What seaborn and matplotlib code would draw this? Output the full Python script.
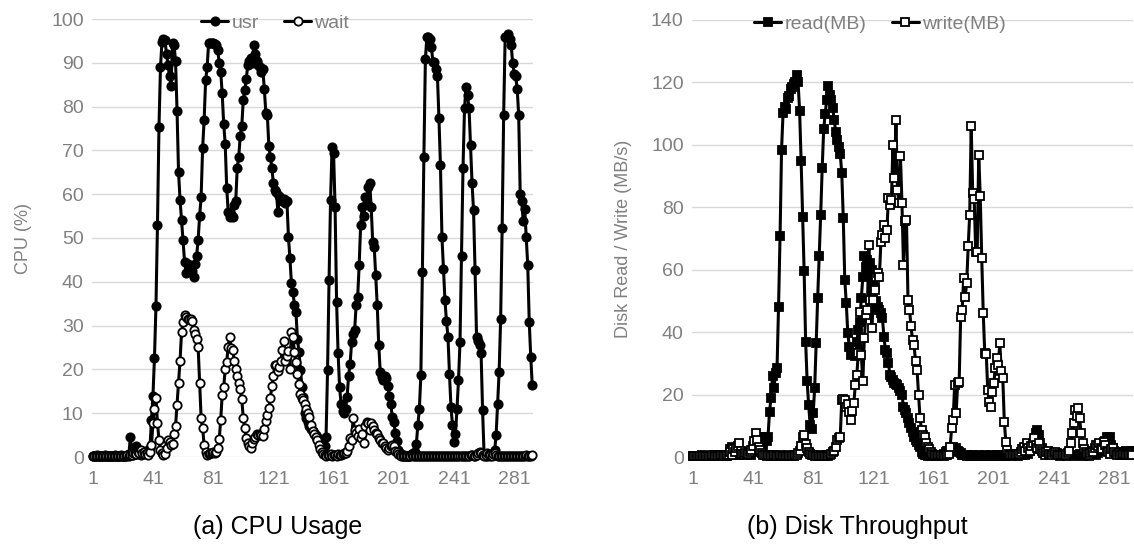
import numpy as np
import pandas as pd
import matplotlib
matplotlib.use("Agg")
import matplotlib.pyplot as plt
import seaborn as sns

# ---------------- data ----------------
# CPU usage (%), one sample per second, 293 samples
usr = [
    # 1-25
    0.3, 0.2, 0.3, 0.4, 0.2, 0.3, 0.3, 0.2, 0.4, 0.3, 0.2, 0.3, 0.3, 0.2, 0.3, 0.4, 0.3, 0.2, 0.3, 0.5,
    0.3, 0.2, 0.3, 0.4, 0.6,
    # 26-39
    4.6, 0.8, 0.5, 0.7, 2.4, 0.6, 0.9, 0.5, 0.7, 1.0, 0.8, 1.2, 1.5, 2.0,
    # 40-63
    8.4, 14, 22.6, 34.5, 53, 75.4, 89, 94.8, 95.5, 95.2, 92, 89.5, 87, 84.7, 94.5, 94, 90.5, 79, 65, 58.7,
    54, 49.5, 44.6, 42,
    # 64-130
    44, 43.8, 43, 42.5, 41, 44, 45.9, 49.5, 55, 59.4, 70.5, 77, 86, 89, 94.6, 94.5, 94.6, 94.5, 94.3, 94,
    93, 90, 88, 83, 76, 71.5, 61.5, 55.9, 54.7, 55.5, 54.7, 57.5, 58.5, 66, 68.5, 73.4, 75.5, 81.5, 83.8, 86.3,
    89.5, 90.5, 91, 90, 94, 92, 90.5, 89.5, 89, 88, 88.5, 84, 78.6, 78, 71, 68.5, 66, 62.5, 61, 60.5,
    56, 59.5, 59, 58.5, 59, 58, 58.5,
    # 131-155
    50.3, 45.4, 39.7, 37.6, 34.7, 33, 27, 24, 19.9, 16, 13.7, 10, 9, 7.9, 7, 6.5, 6, 5.5, 5, 4.5,
    4, 3.6, 3.3, 3, 2.5,
    # 156-168
    4.6, 19.8, 40.4, 58.7, 70.8, 69.4, 57, 35.5, 23.7, 16, 12, 10.4, 10,
    # 169-206
    11, 13.8, 18.6, 21.3, 26.3, 28, 29, 34.7, 36.5, 43.8, 53, 57, 55, 59.4, 58, 61.7, 62.5, 57, 49, 48,
    41.5, 34.7, 25.6, 19.5, 18.3, 17.5, 18.5, 18, 16.3, 14, 12, 9.2, 8, 5.5, 3.7, 1.7, 0.8, 0.5,
    # 207-215
    0.3, 0.4, 0.2, 0.3, 0.3, 0.5, 0.6, 0.8, 1.2,
    # 216-222
    3, 7.3, 11, 18.7, 42.3, 68.5, 90.8,
    # 223-249
    96, 96, 95.4, 93.6, 90.2, 90.2, 88.5, 87, 77.4, 66.7, 50.3, 43, 35.8, 31, 27.5, 19, 11.4, 7.3, 3.4, 5.3,
    11, 17.5, 26.3, 46, 66, 79.6, 84.5,
    # 250-261
    82.6, 79.6, 71.2, 62.5, 56.3, 42.6, 27.4, 26.5, 25.6, 23.7, 10.8, 0.5,
    # 262-268
    0.3, 0.2, 0.4, 0.3, 0.5, 0.4, 1.5,
    # 269-274
    5, 12, 19.5, 31.5, 52.3, 78,
    # 275-293
    96, 96.2, 96.6, 95.5, 94, 90, 87.5, 87, 84, 78, 60, 58.5, 53.8, 56.6, 50.3, 43.8, 30.9, 22.9, 16.4,
]

wait = [
    # 1-25
    0.2, 0.3, 0.2, 0.2, 0.3, 0.2, 0.2, 0.3, 0.2, 0.2, 0.3, 0.2, 0.2, 0.3, 0.2, 0.2, 0.3, 0.2, 0.2, 0.3,
    0.2, 0.3, 0.2, 0.4, 0.3,
    # 26-39
    0.5, 0.5, 0.8, 1.0, 0.6, 1.2, 0.8, 1.5, 0.9, 1.2, 0.7, 1.0, 0.5, 1.2,
    # 40-155
    2.7, 7.8, 11, 13.4, 7.8, 3.9, 1.6, 0.8, 0.5, 0.6, 2, 3.9, 3.5, 2.7, 3.0, 5.3, 7, 11.9, 17, 22,
    28.6, 30.9, 32.4, 32, 31.5, 31.5, 31.5, 31, 29, 28, 27, 25.2, 16.8, 8.9, 6.6, 2.7, 1.2, 0.5, 0.6, 0.8,
    1.0, 1.2, 1.0, 1.2, 2.0, 4, 8.4, 14.2, 16, 20, 21.8, 25.2, 27.5, 25, 24.5, 22, 20, 18.5, 17, 15.5,
    13.2, 8.9, 6.6, 4.3, 3.1, 2.5, 2, 3.1, 4, 4.5, 5.3, 5.0, 5.3, 5.0, 4.8, 6.5, 8.2, 9.5, 11.2, 13.5,
    16.1, 18.4, 21, 21, 19.6, 20.5, 22, 24.5, 26.5, 22, 23, 24.3, 20, 28.6, 27.4, 24, 21.7, 19, 16.7, 14.4,
    13.5, 12.9, 12, 11, 10, 9.1, 7.2, 6, 5.3, 4.5, 3.8, 2.7, 1.8, 1.1, 0.7, 0.4,
    # 156-168
    0.3, 0.5, 0.4, 0.6, 0.3, 0.5, 0.4, 0.3, 0.6, 0.4, 0.5, 0.7, 0.8,
    # 169-206
    1.0, 1.3, 2.5, 4.4, 3.9, 8.8, 6.1, 5.5, 4.9, 6.3, 4.4, 5.3, 3.2, 7.1, 8, 7.8, 6.2, 7.8, 7, 6.1,
    5.5, 5.3, 4.4, 3.9, 3.2, 3.3, 2.5, 2.1, 1.7, 2, 2.5, 2.8, 2.5, 1.3, 1.1, 0.6, 0.4, 0.3,
    # 207-256
    0.3, 0.2, 0.3, 0.3, 0.2, 0.3, 0.4, 0.3, 0.2, 0.3, 0.3, 0.2, 0.3, 0.2, 0.3, 0.3, 0.2, 0.3, 0.3, 0.2,
    0.3, 0.2, 0.3, 0.3, 0.2, 0.3, 0.2, 0.3, 0.3, 0.2, 0.3, 0.3, 0.2, 0.3, 0.2, 0.3, 0.3, 0.2, 0.3, 0.3,
    0.2, 0.3, 0.3, 0.2, 0.3, 0.4, 0.5, 0.3, 0.3, 0.4,
    # 257-293
    0.8, 1.2, 0.9, 0.5, 0.3, 0.5, 0.8, 0.6, 0.4, 0.3, 0.6, 1.0, 0.5, 0.3, 0.2, 0.3, 0.3, 0.2, 0.3, 0.3,
    0.2, 0.3, 0.3, 0.2, 0.3, 0.3, 0.2, 0.3, 0.3, 0.2, 0.3, 0.3, 0.4, 0.3, 0.2, 0.3, 0.4,
]

# Disk throughput (MB/s)
read_mb = [
    # 1-25
    0.3, 0.2, 0.4, 0.3, 0.2, 0.3, 0.5, 0.3, 0.2, 0.3, 0.4, 0.3, 0.2, 0.3, 0.3, 0.5, 0.3, 0.2, 0.4, 0.3,
    0.3, 0.5, 0.3, 0.4, 0.6,
    # 26-51
    2.5, 3.3, 1.5, 3, 1.0, 0.8, 1.5, 0.7, 1.0, 0.5, 0.8, 0.6, 1.0, 1.2, 0.8, 1.5, 2.9, 3.5, 2.5, 4.5,
    6.5, 5.4, 4.0, 6.5, 5.0, 6.5,
    # 52-87
    14.5, 19, 26, 22, 27, 28.5, 48.2, 70.7, 98.4, 110.3, 112, 111.5, 115, 115.6, 117.8, 118.5, 119.5, 120, 122.5, 120,
    110.8, 94.8, 77, 59.5, 37, 24.2, 16.7, 10.3, 9, 14, 22, 36.5, 51, 64.3, 77.6, 92.6,
    # 88-121
    105, 110, 114.5, 118.8, 116, 114.5, 111.7, 108, 104, 101.7, 99.3, 97, 91, 76.6, 56.8, 49.3, 39.7, 35.4, 32.7, 33,
    33, 32.5, 37, 40.6, 43.3, 51, 57.8, 64.3, 61, 63, 58, 62, 60, 57,
    # 122-155
    54.6, 50, 48, 47, 46, 44.6, 38.6, 34.3, 33.3, 30.2, 26.3, 25.5, 24.7, 23.7, 23.3, 23.1, 22.1, 21, 19.9, 16.1,
    15, 14.1, 12.5, 10.9, 9.3, 8.1, 6.5, 5.5, 4.9, 4, 3.3, 1.7, 1.0, 0.7,
    # 156-172
    0.5, 0.4, 0.6, 0.3, 0.5, 0.4, 0.3, 0.5, 0.4, 0.6, 0.5, 0.8, 1.0, 1.5, 2.0, 1.5, 2.2,
    # 173-180
    2.8, 3.3, 2.5, 3.0, 2.0, 1.5, 1.2, 0.8,
    # 181-225
    0.6, 0.5, 0.4, 0.5, 0.3, 0.4, 0.5, 0.4, 0.3, 0.4, 0.5, 0.3, 0.4, 0.3, 0.5, 0.4, 0.3, 0.4, 0.5, 0.3,
    0.4, 0.3, 0.5, 0.4, 0.3, 0.5, 0.6, 0.4, 0.3, 0.5, 0.8, 0.5, 0.4, 0.6, 0.9, 0.5, 0.4, 1.0, 0.6, 0.5,
    1.2, 0.8, 1.5, 1.0, 2.0,
    # 226-240
    3.0, 2.5, 5.0, 7.6, 8.6, 7.0, 4.5, 3.0, 2.0, 1.5, 1.0, 1.5, 0.8, 1.2, 0.6,
    # 241-293
    0.5, 0.8, 1.2, 0.6, 0.4, 0.8, 1.0, 0.5, 0.4, 0.6, 1.2, 0.8, 0.5, 0.4, 0.6, 0.5, 0.8, 1.0, 0.6, 0.4,
    0.5, 0.8, 0.6, 0.4, 1.2, 1.5, 2.0, 1.0, 0.8, 1.2, 2.0, 2.5, 3.0, 4.4, 5.0, 6.5, 6.0, 6.5, 4.0, 3.0,
    2.0, 1.5, 1.0, 1.5, 1.2, 0.8, 1.0, 1.5, 2.0, 1.5, 1.2, 1.8, 2.0,
]

write_mb = [
    # 1-25
    0.3, 0.2, 0.3, 0.4, 0.3, 0.2, 0.3, 0.3, 0.2, 0.4, 0.3, 0.2, 0.3, 0.5, 0.3, 0.2, 0.3, 0.4, 0.3, 0.5,
    0.4, 0.3, 0.6, 0.5, 0.8,
    # 26-52
    1.5, 0.8, 2.5, 1.5, 3.0, 3.5, 4.5, 2.0, 1.0, 0.8, 1.2, 0.6, 0.9, 1.5, 2.2, 3.5, 5.0, 7.6, 5.4, 3.2,
    2.2, 1.2, 0.8, 0.5, 0.4, 0.6, 0.5,
    # 53-95
    0.4, 0.3, 0.5, 0.3, 0.4, 0.3, 0.5, 0.4, 0.3, 0.4, 0.3, 0.5, 0.4, 0.3, 0.4, 0.3, 0.5, 0.8, 1.2, 2.0,
    3.5, 6.5, 7.0, 4.2, 2.8, 1.5, 1.0, 0.6, 0.5, 0.4, 0.3, 0.4, 0.3, 0.5, 0.3, 0.4, 0.3, 0.5, 0.4, 0.6,
    1.0, 1.5, 2.0,
    # 96-155
    3.3, 5.4, 6, 6.5, 18.3, 18.7, 18.3, 16.1, 17.1, 14.5, 11.9, 14.7, 17.2, 23, 26.3, 33.3, 46.6, 32.7, 24.2, 38,
    45.6, 47.2, 68, 50.4, 41.4, 50.4, 53.6, 57.8, 59, 57.8, 69, 71.2, 74.4, 70.1, 72.8, 83, 80.8, 82.4, 100, 89.4,
    108, 85.6, 81.3, 96.3, 81.3, 61.6, 75.5, 76, 50.4, 47.2, 42, 37.5, 36, 30.6, 28, 20, 12.4, 8.7, 7, 6.5,
    # 156-171
    4.5, 3.3, 2.5, 1.7, 0.9, 0.7, 0.5, 0.7, 0.6, 0.8, 0.5, 0.6, 0.4, 0.5, 0.8, 1.0,
    # 172-211
    3.3, 9.2, 11.9, 23.1, 14.1, 23.6, 24, 45, 47.2, 57.3, 51.4, 55.7, 67.5, 77.6, 106, 84.6, 82.5, 65.8, 65.8, 96.9,
    83.5, 63.7, 46.1, 33.3, 33, 21.5, 17.7, 16.1, 20.9, 23.6, 28.4, 31.6, 29.5, 36.5, 27.4, 25.2, 11.3, 4.9, 2.2, 1.0,
    # 212-251
    0.6, 0.5, 0.8, 0.6, 0.5, 0.8, 1.0, 1.5, 2.5, 3.3, 2.0, 4.5, 3.0, 2.0, 3.5, 4.5, 6.0, 4.0, 3.0, 4.5,
    2.5, 1.8, 1.2, 0.8, 1.5, 1.8, 1.0, 0.8, 0.5, 1.2, 1.5, 1.0, 0.6, 0.5, 0.8, 0.6, 0.5, 0.8, 1.2, 2.0,
    # 252-262
    4.5, 7.6, 10.9, 15, 13, 15.6, 12.5, 7.6, 4.5, 2.7, 1.5,
    # 263-293
    1.0, 0.8, 1.2, 2.0, 1.5, 3.0, 4.0, 3.5, 4.4, 3.0, 2.5, 4.9, 4.0, 2.0, 1.5, 1.0, 2.5, 3.0, 1.5, 1.0,
    0.8, 1.2, 0.6, 0.5, 1.0, 0.8, 0.6, 0.5, 0.8, 1.0, 0.5,
]

cpu_labels = ["usr", "wait"]
disk_labels = ["read(MB)", "write(MB)"]
x_ticks = [1, 41, 81, 121, 161, 201, 241, 281]
cpu_yticks = list(range(0, 101, 10))
disk_yticks = list(range(0, 141, 20))
panel_titles = ["(a) CPU Usage", "(b) Disk Throughput"]
y_titles = ["CPU (%)", "Disk Read / Write (MB/s)"]

# ---------------- style ----------------
sns.set_style("white")
plt.rcParams['font.family'] = ['Liberation Sans', 'DejaVu Sans']
GRAY = '#808080'
GRID = '#d9d9d9'

fig = plt.figure(figsize=(11.34, 5.52), dpi=100)
ax1 = fig.add_axes([92 / 1134, 95 / 552, 441 / 1134, 438 / 552])
ax2 = fig.add_axes([692 / 1134, 95 / 552, 441 / 1134, 437 / 552])


def draw(ax, values, label, marker, filled, ms):
    df = pd.DataFrame({"t": np.arange(1, len(values) + 1), "v": values})
    n_before = len(ax.lines)
    sns.lineplot(data=df, x="t", y="v", ax=ax, color="black", linewidth=2.2,
                 marker=marker, markersize=ms,
                 markerfacecolor="black" if filled else "white",
                 markeredgecolor="black", markeredgewidth=1.3,
                 label=label, estimator=None, sort=False)
    for ln in ax.lines[n_before:]:
        ln.set_clip_on(False)


draw(ax1, usr, cpu_labels[0], "o", True, 6.0)
draw(ax1, wait, cpu_labels[1], "o", False, 6.0)
draw(ax2, read_mb, disk_labels[0], "s", True, 5.5)
draw(ax2, write_mb, disk_labels[1], "s", False, 5.5)

for ax, yt, ytitle, lx in [(ax1, cpu_yticks, y_titles[0], 0.415),
                           (ax2, disk_yticks, y_titles[1], 0.426)]:
    ax.set_xlim(0.5, 293.5)
    ax.set_ylim(0, yt[-1])
    ax.set_yticks(yt)
    ax.set_xticks(x_ticks)
    ax.set_xlabel("")
    ax.set_ylabel(ytitle, color=GRAY, fontsize=13)
    ax.yaxis.set_label_coords(-0.135, 0.5)
    ax.grid(axis="y", color=GRID, linewidth=1.0)
    ax.grid(axis="x", visible=False)
    ax.set_axisbelow(True)
    for s in ax.spines.values():
        s.set_visible(False)
    ax.tick_params(axis="both", length=0, labelcolor=GRAY, labelsize=14)
    ax.tick_params(axis="x", pad=10)
    ax.tick_params(axis="y", pad=6)
    ax.legend(loc="center", bbox_to_anchor=(lx, 0.99), ncol=2, frameon=False,
              fontsize=14, handlelength=1.4, handletextpad=0.15,
              columnspacing=1.3, labelcolor=GRAY)

fig.text(278 / 1134, 1 - 527 / 552, panel_titles[0], ha="center", va="center",
         fontsize=18, color="black")
fig.text(857 / 1134, 1 - 527 / 552, panel_titles[1], ha="center", va="center",
         fontsize=18, color="black")

fig.savefig("out.png", dpi=100)
